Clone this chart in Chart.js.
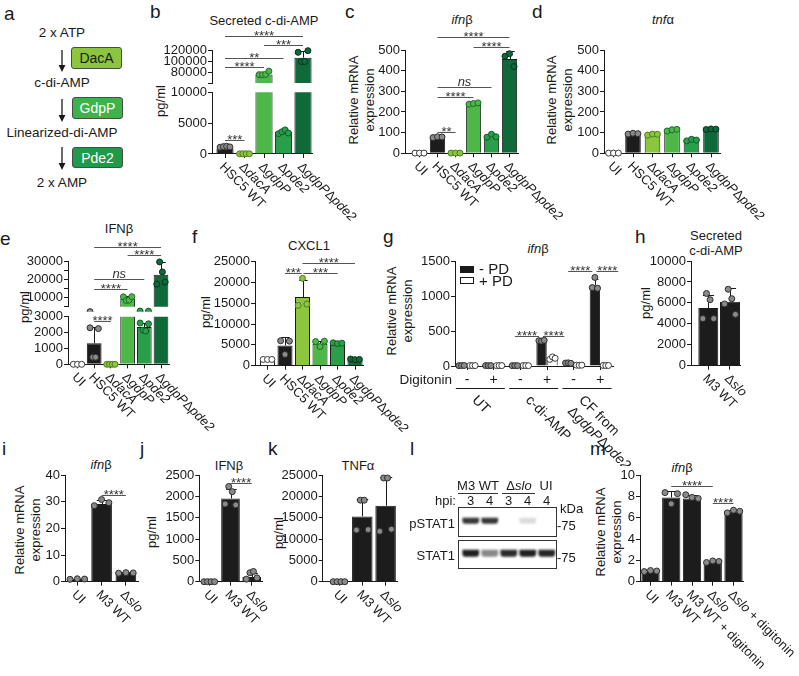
<!DOCTYPE html>
<html>
<head>
<meta charset="utf-8">
<script src="https://cdn.jsdelivr.net/npm/chart.js@4.4.1/dist/chart.umd.min.js"></script>
<style>
  body { margin: 0; width: 799px; height: 676px; position: relative; overflow: hidden; background: #fff;
         font-family: "Liberation Sans", Arial, Helvetica, sans-serif; color: #1a1a1a; }
  .t { position: absolute; white-space: nowrap; line-height: 1; }
  canvas { position: absolute; }
</style>
</head>
<body>
<svg style="position:absolute;left:0;top:0" width="130" height="200">
  <g stroke="#1a1a1a" stroke-width="1.3" fill="#1a1a1a">
    <line x1="62" y1="50" x2="62" y2="66"/><polygon points="58.6,65 65.4,65 62,72" stroke="none"/>
    <line x1="62" y1="99" x2="62" y2="116"/><polygon points="58.6,115 65.4,115 62,122" stroke="none"/>
    <line x1="62" y1="147" x2="62" y2="164"/><polygon points="58.6,163 65.4,163 62,170" stroke="none"/>
  </g>
</svg>
<script>
// ── Datos ─────────────────────────────────────────────────
const bCats = ['HSC5 WT', 'Δ*dacA*', 'Δ*gdpP*', 'Δ*pde2*', 'Δ*gdpP*Δ*pde2*'];
const bMeans = [900, 40, 76000, 3600, 107000];
const bSD = [250, 10, 2800, 350, 12500];
const bReps = [[1100, 1200, 1250, 1150], [30, 40, 40, 30], [75500, 75500, 76000, 82000], [3300, 3600, 3900, 3400], [117000, 100000, 100000, 120000]];

const cCats = ['UI', ...bCats];
const cMeans = [1, 78, 1, 240, 82, 456];
const cSD = [0, 4, 0, 4, 8, 38];
const cReps = [[1, 1, 1], [76, 80, 79], [1, 1, 1], [238, 241, 244], [78, 92, 80], [470, 482, 420]];

const dMeans = [1, 95, 91, 112, 64, 117];
const dSD = [0, 4, 3, 5, 4, 2];
const dReps = [[1, 1, 1], [93, 97, 95], [88, 93, 92], [108, 114, 116], [60, 68, 64], [115, 118, 117]];

const eMeans = [0, 1320, 0, 9300, 2350, 22500];
const eSD = [0, 1050, 0, 1300, 250, 7000];
const eReps = [[0, 0, 0], [2300, 450, 450, 2250], [0, 0, 0, 0], [10400, 8400, 8600, 10500], [2600, 2150, 2100, 2550], [17300, 29500, 24000, 18500]];

const fMeans = [1400, 4870, 16500, 5300, 5300, 1500];
const fSD = [0, 2100, 4000, 700, 300, 100];
const fReps = [[1500, 1500, 1500], [6000, 2700, 5900], [14500, 21000, 14800], [5800, 4600, 5900], [5500, 5300, 5400], [1600, 1450, 1500]];

const gDigitonin = ['-', '+', '-', '+', '-', '+'];
const gGroups = [['UT'], ['c-di-AMP'], ['CF from', 'Δ*gdpP*Δ*pde2*']];
const gMinusPD = [6, 6, 5, 360, 40, 1150];
const gMinusSD = [0, 0, 0, 8, 5, 95];
const gMinusReps = [[5, 6, 7], [6, 5, 6], [5, 6, 5], [362, 356, 368], [42, 45, 38], [1120, 1265, 1110]];
const gPlusPD = [6, 6, 6, 110, 12, 8];
const gPlusSD = [0, 0, 0, 20, 0, 0];
const gPlusReps = [[6, 5, 6], [5, 6, 6], [6, 6, 5], [95, 130, 110], [12, 10, 12], [8, 7, 8]];

const hCats = ['M3 WT', 'Δ*slo*'];
const hMeans = [5500, 6100];
const hSD = [1250, 1300];
const hReps = [[4500, 6900, 6300, 4500], [5900, 7300, 6400, 4900]];

const ijkCats = ['UI', 'M3 WT', 'Δ*slo*'];
const iMeans = [1, 29.1, 3.3];
const iSD = [0.1, 1.4, 0.15];
const iReps = [[0.9, 1.1, 1.0], [28.5, 30.8, 29.6], [3.2, 3.4, 3.3]];
const jMeans = [0, 1950, 110];
const jSD = [0, 230, 90];
const jReps = [[0, 0, 0, 0], [1820, 2230, 2110, 1800], [60, 210, 240, 90]];
const kMeans = [0, 15300, 17800];
const kSD = [0, 4100, 6800];
const kReps = [[0, 0, 0, 0], [12100, 19100, 19100, 12200], [11800, 24300, 24300, 12300]];

const mCats = ['UI', 'M3 WT', 'M3 WT + digitonin', 'Δ*slo*', 'Δ*slo* + digitonin'];
const mMeans = [1.0, 7.9, 7.8, 1.85, 6.6];
const mSD = [0.05, 0.6, 0.3, 0.08, 0.12];
const mReps = [[0.95, 1.05, 1.0], [8.35, 7.3, 8.25], [8.15, 7.9, 7.8], [1.8, 1.95, 1.9], [6.45, 6.7, 6.6]];

const blotHpi = ['3', '4', '3', '4', '4'];
const pSTAT1 = [0.85, 0.85, 0.0, 0.15, 0.0];
const STAT1 = [0.95, 0.5, 0.9, 0.95, 0.92];

// ── Estilos ───────────────────────────────────────────────
const W = 799, H = 676;
const INK = '#1a1a1a';
const FAM = '"Liberation Sans", Arial, Helvetica, sans-serif';
const FILL = { UI: '#ffffff', WT: '#1c1c1c', dacA: '#8cc63f', gdpP: '#4db848', pde2: '#2a9f4a', dbl: '#0e6a39' };
const DOT = { UI: ['#ffffff', '#3a3a3a'], WT: ['#8a8a8a', '#2e2e2e'], dacA: ['#8cc63f', '#4f7d21'],
              gdpP: ['#4db848', '#1f6a2a'], pde2: ['#2a9f4a', '#145a27'], dbl: ['#0e6a39', '#04301a'] };
const bKeys = ['WT', 'dacA', 'gdpP', 'pde2', 'dbl'];
const cKeys = ['UI', ...bKeys];
const wt = n => Array(n).fill('WT');

Chart.defaults.font.family = FAM;
Chart.defaults.color = INK;

// ── Helpers ───────────────────────────────────────────────
function txt(html, x, base, size, align, extra) {
  const d = document.createElement('div');
  d.className = 't';
  d.innerHTML = html;
  d.style.fontSize = size + 'px';
  d.style.top = (base - 0.8465 * size) + 'px';
  if (align === 'center') { d.style.left = x + 'px'; d.style.transform = 'translateX(-50%)'; }
  else if (align === 'right') d.style.right = (W - x) + 'px';
  else d.style.left = x + 'px';
  if (extra) d.style.cssText += extra;
  document.body.appendChild(d);
}

function ytitle(lines, cx, cy) {
  const d = document.createElement('div');
  d.className = 't';
  d.style.cssText += `font-size:13px;line-height:16px;text-align:center;left:${cx}px;top:${cy}px;transform:translate(-50%,-50%) rotate(-90deg);`;
  d.innerHTML = lines.join('<br>');
  document.body.appendChild(d);
}

function div(x, y, w, h, css) {
  const d = document.createElement('div');
  d.style.cssText = `position:absolute;left:${x}px;top:${y}px;width:${w}px;height:${h}px;box-sizing:border-box;` + (css || '');
  document.body.appendChild(d);
  return d;
}

// texto con partes en cursiva entre asteriscos
function rich(ctx, text, size, x, y, align) {
  const parts = text.split('*');
  const fonts = parts.map((_, k) => (k % 2 ? 'italic ' : '') + size + 'px ' + FAM);
  let w = 0;
  parts.forEach((s, k) => { ctx.font = fonts[k]; w += ctx.measureText(s).width; });
  let cx = align === 'center' ? x - w / 2 : x;
  ctx.textAlign = 'left'; ctx.textBaseline = 'middle'; ctx.fillStyle = INK;
  parts.forEach((s, k) => {
    if (!s) return;
    ctx.font = fonts[k];
    ctx.fillText(s, cx, y);
    cx += ctx.measureText(s).width;
  });
}

function deco(p) {
  const m = p.series.length, cp = p.cp || 1, bp = p.bp || 0.86;
  return {
    id: 'deco',
    afterDatasetDraw(chart, args) {
      if (args.meta.type !== 'bar') return;
      const k = args.index, se = p.series[k];
      if (!se || !se.sd) return;
      const xs = chart.scales.x, ys = chart.scales.y, a = chart.chartArea, ctx = chart.ctx;
      const unit = xs.getPixelForValue(1) - xs.getPixelForValue(0);
      const hw = unit * cp / m * bp * 0.28;
      const off = (k - (m - 1) / 2) * cp / m;
      ctx.save();
      ctx.beginPath(); ctx.rect(a.left, a.top - 8, a.right - a.left, a.bottom - a.top + 8); ctx.clip();
      ctx.strokeStyle = INK; ctx.lineWidth = 1; ctx.beginPath();
      se.means.forEach((v, i) => {
        const sd = se.sd[i];
        if (!sd || v < ys.min || v > ys.max) return;
        const x = Math.round(xs.getPixelForValue(i + off)) + 0.5;
        const y0 = ys.getPixelForValue(v), y1 = Math.round(ys.getPixelForValue(v + sd)) + 0.5;
        ctx.moveTo(x, y0); ctx.lineTo(x, y1);
        ctx.moveTo(x - hw, y1); ctx.lineTo(x + hw, y1);
      });
      ctx.stroke(); ctx.restore();
    },
    afterDraw(chart) {
      const ctx = chart.ctx, xs = chart.scales.x, ys = chart.scales.y, a = chart.chartArea;
      ctx.save();
      ctx.lineWidth = 1;
      (p.brackets || []).forEach(([x1, x2, lab, v]) => {
        const y = Math.round(ys.getPixelForValue(v)) + 0.5;
        const px1 = xs.getPixelForValue(x1), px2 = xs.getPixelForValue(x2);
        ctx.strokeStyle = '#555'; ctx.beginPath(); ctx.moveTo(px1, y); ctx.lineTo(px2, y); ctx.stroke();
        const star = lab.includes('*');
        ctx.font = (star ? '' : 'italic ') + '13px ' + FAM;
        ctx.fillStyle = '#333'; ctx.textAlign = 'center'; ctx.textBaseline = 'alphabetic';
        ctx.fillText(lab, (px1 + px2) / 2, star ? y + 3.5 : y - 2);
      });
      if (p.labels) p.labels.forEach((lab, i) => {
        ctx.save();
        ctx.translate(xs.getPixelForValue(i) - 3.5, a.bottom + 11);
        ctx.rotate(Math.PI / 4);
        rich(ctx, lab, 13, 0, 0);
        ctx.restore();
      });
      if (p.flat) p.flat.forEach((lab, i) => rich(ctx, lab, 14, xs.getPixelForValue(i), a.bottom + 14, 'center'));
      (p.groups || []).forEach((lines, g) => {
        const i0 = g * 2, i1 = g * 2 + 1;
        const y = Math.round(a.bottom + 22) + 0.5;
        ctx.strokeStyle = INK; ctx.beginPath();
        ctx.moveTo(xs.getPixelForValue(i0 - 0.42), y); ctx.lineTo(xs.getPixelForValue(i1 + 0.42), y); ctx.stroke();
        ctx.save();
        ctx.translate((xs.getPixelForValue(i0) + xs.getPixelForValue(i1)) / 2 - 6, a.bottom + 32);
        ctx.rotate(Math.PI / 4);
        lines.forEach((s, j) => rich(ctx, s, 14, 0, j * 16));
        ctx.restore();
      });
      ctx.restore();
    }
  };
}

// ── Grafica de barras con puntos ──────────────────────────
function barChart(p) {
  const n = p.n, m = p.series.length, cp = p.cp || 1, bp = p.bp || 0.86, spread = p.spread || 0.5;
  const r = p.c0 + (n - 0.5) * p.s;
  const cx = Math.max(0, Math.floor(p.l - 60)), cy = Math.max(0, Math.floor(p.t - 40));
  const cr = Math.min(W, Math.ceil(r + 70)), cb = Math.min(H, Math.ceil(p.b + 100));
  const cv = document.createElement('canvas');
  cv.width = cr - cx; cv.height = cb - cy;
  cv.style.left = cx + 'px'; cv.style.top = cy + 'px';
  document.body.appendChild(cv);

  const datasets = [];
  p.series.forEach(se => datasets.push({
    type: 'bar', order: 2, clip: 0,
    data: se.means.map((v, i) => ({ x: i, y: v })),
    backgroundColor: se.keys.map(k => FILL[k]),
    borderColor: INK, borderWidth: 1,
    barPercentage: bp, categoryPercentage: cp
  }));
  p.series.forEach((se, k) => {
    const off = (k - (m - 1) / 2) * cp / m;
    const pts = [], bg = [], bd = [];
    se.reps.forEach((arr, i) => arr.forEach((v, j) => {
      const d = arr.length > 1 ? (j / (arr.length - 1) - 0.5) * spread : 0;
      pts.push({ x: i + off + d, y: v });
      bg.push(DOT[se.keys[i]][0]); bd.push(DOT[se.keys[i]][1]);
    }));
    datasets.push({ type: 'scatter', order: 1, clip: 5, data: pts, pointRadius: 3,
      pointBackgroundColor: bg, pointBorderColor: bd, pointBorderWidth: 1 });
  });

  const tickLine = { display: true, drawOnChartArea: false, drawTicks: true, color: INK, lineWidth: 1, offset: false };
  return new Chart(cv, {
    type: 'bar',
    data: { datasets },
    options: {
      responsive: false, animation: false, events: [], devicePixelRatio: 1,
      layout: { padding: { left: 0, top: p.t - cy, right: cr - r, bottom: p.hideX ? cb - p.b : 0 } },
      plugins: { legend: { display: false }, tooltip: { enabled: false } },
      scales: {
        x: {
          type: 'linear', display: !p.hideX, min: -(p.c0 - p.l) / p.s, max: n - 0.5, offset: false,
          afterBuildTicks: a => { a.ticks = Array.from({ length: n }, (_, i) => ({ value: i })); },
          afterFit: a => { a.height = p.hideX ? 0 : cb - p.b; a.paddingLeft = 0; a.paddingRight = 0; },
          ticks: { display: false },
          grid: { ...tickLine, tickLength: 4 },
          border: { display: true, color: INK, width: 1 }
        },
        y: {
          type: 'linear', min: p.ymin || 0, max: p.ymax,
          afterFit: a => { a.width = p.l - cx; a.paddingTop = 0; a.paddingBottom = 0; },
          ticks: { stepSize: p.step, autoSkip: false, padding: 1, color: INK, font: { size: 13 },
                   callback: p.tickCb || (v => String(v)) },
          grid: { ...tickLine, tickLength: 4 },
          border: { display: true, color: INK, width: 1 }
        }
      }
    },
    plugins: [deco(p)]
  });
}

// ── Western blot ──────────────────────────────────────────
function blot() {
  const cv = document.createElement('canvas');
  cv.width = 99; cv.height = 61;
  cv.style.left = '458px'; cv.style.top = '507px';
  document.body.appendChild(cv);
  const band = (vals, c, h) => ({
    data: vals.map((v, i) => ({ x: i, y: [c - h, c + h] })),
    backgroundColor: vals.map(v => `rgba(20,20,20,${v})`),
    grouped: false, barPercentage: 0.88, categoryPercentage: 1, borderRadius: 3, borderWidth: 0, clip: 0
  });
  new Chart(cv, {
    type: 'bar',
    data: { datasets: [band(pSTAT1, 0.45, 0.1), band(STAT1, 1.52, 0.115)] },
    options: {
      responsive: false, animation: false, events: [], devicePixelRatio: 1,
      layout: { padding: 0 },
      plugins: { legend: { display: false }, tooltip: { enabled: false } },
      scales: {
        x: { type: 'linear', display: false, min: -0.67, max: 4.54, offset: false,
             afterBuildTicks: a => { a.ticks = blotHpi.map((_, i) => ({ value: i })); } },
        y: { display: false, min: 0, max: 2, reverse: true }
      }
    },
    plugins: [{
      id: 'blur',
      beforeDatasetsDraw(chart) { chart.ctx.save(); chart.ctx.filter = 'blur(1.2px)'; },
      afterDatasetsDraw(chart) { chart.ctx.restore(); }
    }]
  });
}

// ── a: esquema ────────────────────────────────────────────
txt('2 x ATP', 62, 37.5, 13.5, 'center');
txt('c-di-AMP', 62, 87.5, 13.5, 'center');
txt('Linearized-di-AMP', 62, 137.5, 13.5, 'center');
txt('2 x AMP', 62, 187.5, 13.5, 'center');
div(71, 47, 51, 21.5, 'border:1px solid #4a4a4a;border-radius:3px;background:#8cc63f;');
div(72, 97, 51, 21.5, 'border:1px solid #4a4a4a;border-radius:3px;background:#3cb44a;');
div(72, 146.5, 51, 21.5, 'border:1px solid #4a4a4a;border-radius:3px;background:#1f9a49;');
txt('DacA', 96.5, 63, 14, 'center');
txt('GdpP', 97.5, 113, 14, 'center', 'color:#fff;');
txt('Pde2', 97.5, 162.5, 14, 'center', 'color:#fff;');

// ── letras de panel ───────────────────────────────────────
[['a', 4, 20], ['b', 150, 18], ['c', 345, 18.3], ['d', 532, 18.3], ['e', 0, 245], ['f', 192, 243],
 ['g', 383, 243], ['h', 635, 243], ['i', 2, 455], ['j', 140, 455], ['k', 268, 455], ['l', 410, 455], ['m', 590, 455]]
  .forEach(([s, x, y]) => txt(s, x, y, 19));

// ── titulos ───────────────────────────────────────────────
txt('Secreted c-di-AMP', 264, 25, 13, 'center');
txt('<i>ifn</i>β', 462, 24, 13, 'center');
txt('<i>tnf</i>α', 663, 24, 13, 'center');
txt('IFNβ', 119, 233, 13, 'center');
txt('CXCL1', 309, 250, 13, 'center');
txt('<i>ifn</i>β', 538, 253, 13, 'center');
txt('Secreted', 716, 240, 13, 'center');
txt('c-di-AMP', 716, 255, 13, 'center');
txt('<i>ifn</i>β', 101, 469, 13, 'center');
txt('IFNβ', 229, 470, 13, 'center');
txt('TNFα', 358, 470, 13, 'center');
txt('<i>ifn</i>β', 682, 472, 13, 'center');

ytitle(['pg/ml'], 161, 101);
ytitle(['Relative mRNA', 'expression'], 362, 100);
ytitle(['Relative mRNA', 'expression'], 560, 100);
ytitle(['pg/ml'], 25, 307);
ytitle(['pg/ml'], 206, 312);
ytitle(['Relative mRNA', 'expression'], 400, 311);
ytitle(['pg/ml'], 646, 303);
ytitle(['Relative mRNA', 'expression'], 28, 530);
ytitle(['pg/ml'], 152, 532);
ytitle(['pg/ml'], 279, 533);
ytitle(['Relative mRNA', 'expression'], 609, 532);

// ── graficas ──────────────────────────────────────────────
// b (eje cortado)
barChart({ l: 212, t: 92.3, b: 154, c0: 225, s: 19.5, n: 5, ymax: 10000, step: 5000, bp: 0.88,
  series: [{ means: bMeans, sd: bSD, reps: bReps, keys: bKeys }], labels: bCats,
  brackets: [[0, 1, '***', 2270]] });
barChart({ l: 212, t: 50.7, b: 83, c0: 225, s: 19.5, n: 5, ymin: 60000, ymax: 120000, step: 20000, bp: 0.88, hideX: true,
  tickCb: v => v === 60000 ? '' : String(v),
  series: [{ means: bMeans, sd: bSD, reps: bReps, keys: bKeys }],
  brackets: [[0, 4, '****', 147000], [2, 4, '***', 130500], [0, 3, '**', 106000], [0, 2, '****', 90300]] });
// c
barChart({ l: 405, t: 50, b: 153.3, c0: 419.5, s: 18, n: 6, ymax: 500, step: 100, bp: 0.85,
  series: [{ means: cMeans, sd: cSD, reps: cReps, keys: cKeys }], labels: cCats,
  brackets: [[1, 5, '****', 563], [3, 5, '****', 514], [1, 4, 'ns', 321], [1, 3, '****', 272], [1, 2, '**', 103]] });
// d
barChart({ l: 604, t: 50, b: 153.3, c0: 613.5, s: 19.5, n: 6, ymax: 500, step: 100, bp: 0.8,
  series: [{ means: dMeans, sd: dSD, reps: dReps, keys: cKeys }], labels: cCats });
// e (eje cortado)
barChart({ l: 68, t: 316.7, b: 364.3, c0: 77.5, s: 16.7, n: 6, ymax: 3000, step: 1000, bp: 0.88,
  series: [{ means: eMeans, sd: eSD, reps: eReps, keys: cKeys }], labels: cCats,
  brackets: [[1, 2, '****', 2750]] });
barChart({ l: 68, t: 261, b: 306.7, c0: 77.5, s: 16.7, n: 6, ymin: 5000, ymax: 30000, step: 5000, bp: 0.88, hideX: true,
  tickCb: v => v % 10000 ? '' : String(v),
  series: [{ means: eMeans, sd: eSD, reps: eReps, keys: cKeys }],
  brackets: [[1, 5, '****', 37800], [3, 5, '****', 33300], [1, 4, 'ns', 20150], [1, 3, '****', 14850]] });
// f
barChart({ l: 255, t: 261.7, b: 365.7, c0: 267.5, s: 17.5, n: 6, ymax: 25000, step: 5000, bp: 0.86,
  series: [{ means: fMeans, sd: fSD, reps: fReps, keys: cKeys }], labels: cCats,
  brackets: [[1, 1.95, '***', 22350], [2.05, 4, '***', 22350], [2, 5, '****', 24700]] });
// g
barChart({ l: 455, t: 261, b: 366, c0: 467, s: 26.67, n: 6, ymax: 1500, step: 500, cp: 0.82, bp: 0.95, spread: 0.2,
  series: [{ means: gMinusPD, sd: gMinusSD, reps: gMinusReps, keys: wt(6) },
           { means: gPlusPD, sd: gPlusSD, reps: gPlusReps, keys: Array(6).fill('UI') }],
  flat: gDigitonin, groups: gGroups,
  brackets: [[1.795, 2.7, '****', 433], [2.85, 3.65, '****', 433], [3.795, 4.7, '****', 1357], [4.85, 5.67, '****', 1357]] });
// h
barChart({ l: 691, t: 261, b: 365.7, c0: 708.3, s: 21.7, n: 2, ymax: 10000, step: 2000, bp: 0.92,
  series: [{ means: hMeans, sd: hSD, reps: hReps, keys: wt(2) }], labels: hCats });
// i
barChart({ l: 65, t: 475, b: 581.7, c0: 77.3, s: 24.3, n: 3, ymax: 40, step: 10, bp: 0.85, spread: 0.6,
  series: [{ means: iMeans, sd: iSD, reps: iReps, keys: wt(3) }], labels: ijkCats,
  brackets: [[1, 2, '****', 32.5]] });
// j
barChart({ l: 199.3, t: 475, b: 581.7, c0: 209.3, s: 21.2, n: 3, ymax: 2500, step: 500, bp: 0.88,
  series: [{ means: jMeans, sd: jSD, reps: jReps, keys: wt(3) }], labels: ijkCats,
  brackets: [[1, 2, '****', 2320]] });
// k
barChart({ l: 322.7, t: 475, b: 581.7, c0: 339, s: 23.3, n: 3, ymax: 25000, step: 5000, bp: 0.88,
  series: [{ means: kMeans, sd: kSD, reps: kReps, keys: wt(3) }], labels: ijkCats });
// m
barChart({ l: 640, t: 475, b: 581.7, c0: 650.5, s: 20.75, n: 5, ymax: 10, step: 2, bp: 0.88, spread: 0.6,
  series: [{ means: mMeans, sd: mSD, reps: mReps, keys: wt(5) }], labels: mCats,
  brackets: [[1, 3, '****', 8.97], [3, 4, '****', 7.35]] });

// ── g: leyenda y digitonina ───────────────────────────────
div(460, 265.5, 14, 7, 'background:#1a1a1a;');
div(460, 277, 14, 7, 'background:#fff;border:1px solid #1a1a1a;');
txt('- PD', 479, 274, 15);
txt('+ PD', 479, 285.5, 15);
txt('Digitonin', 452, 384.5, 13.5, 'right');

// ── l: blot ───────────────────────────────────────────────
div(458, 506.5, 99, 30.5, 'border:1px solid #333;');
div(458, 539.5, 99, 29, 'border:1px solid #333;');
blot();
txt('M3 WT', 478, 490, 13, 'center');
txt('Δ<i>slo</i>', 519, 490, 13, 'center');
txt('UI', 546, 490, 13, 'center');
div(458, 492.5, 40, 1, 'background:#333;');
div(502, 492.5, 33, 1, 'background:#333;');
txt('hpi:', 435, 505, 13);
blotHpi.forEach((s, i) => txt(s, 470.7 + i * 19, 505, 13, 'center'));
txt('kDa', 560, 513, 13);
txt('-75', 557, 529.6, 13);
txt('-75', 557, 562, 13);
txt('pSTAT1', 455, 528, 13, 'right');
txt('STAT1', 455, 559.7, 13, 'right');
</script>
</body>
</html>
